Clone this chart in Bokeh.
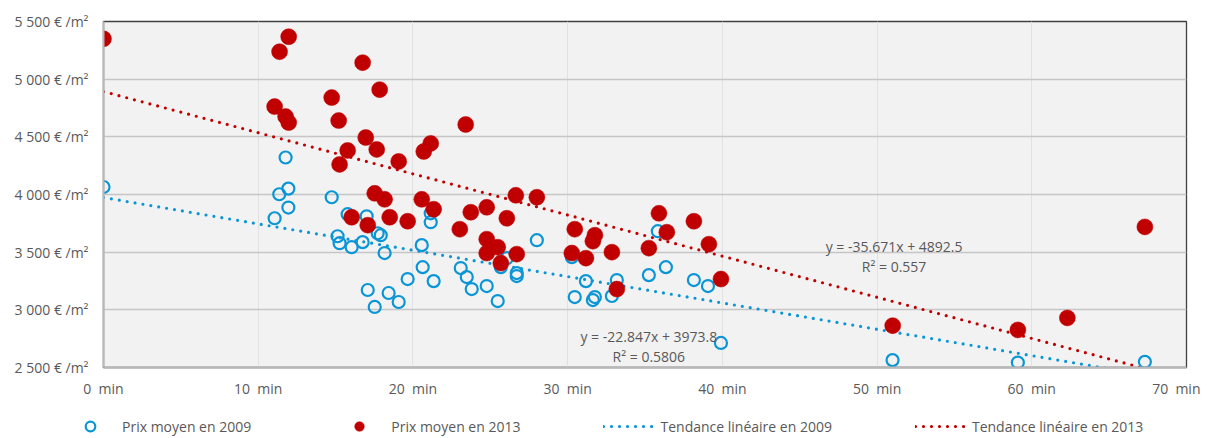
from bokeh.plotting import figure
from bokeh.layouts import column
from bokeh.models import Range1d, FixedTicker, Label, Legend, LegendItem
from bokeh.embed import file_html
from bokeh.resources import INLINE

# ---------------- data ----------------
minutes_2009 = [0.0, 11.77, 11.36, 11.95, 11.95, 11.06, 14.75, 15.78, 17.01, 21.15,
                21.15, 15.13, 15.26, 16.04, 16.75, 17.72, 17.92, 18.17, 20.57, 20.63,
                21.34, 19.66, 17.08, 18.43, 19.08, 17.53, 23.09, 23.48, 23.80, 24.77,
                25.48, 25.68, 26.07, 26.71, 26.71, 28.01, 30.27, 31.18, 30.46, 31.63,
                31.76, 32.86, 33.18, 35.25, 36.35, 35.83, 38.16, 39.07, 39.91, 51.0,
                59.1, 67.31]
prix_2009 = [4065, 4321, 4002, 4051, 3887, 3794, 3976, 3829, 3811, 3837,
             3760, 3638, 3578, 3543, 3587, 3664, 3647, 3492, 3561, 3370,
             3249, 3267, 3172, 3146, 3068, 3025, 3362, 3284, 3180, 3206,
             3076, 3370, 3448, 3319, 3293, 3604, 3457, 3249, 3111, 3085,
             3111, 3120, 3258, 3301, 3370, 3682, 3258, 3206, 2713, 2564,
             2543, 2549]

minutes_2013 = [0.0, 11.38, 11.97, 11.06, 11.77, 11.97, 14.75, 15.20, 16.75, 17.85,
                16.95, 15.78, 17.66, 15.26, 19.08, 20.70, 21.15, 23.41, 17.53, 18.17,
                20.57, 21.34, 16.04, 17.08, 18.50, 19.66, 23.03, 23.74, 24.77, 26.07,
                26.65, 28.01, 24.77, 25.48, 24.77, 26.71, 25.68, 30.46, 31.76, 31.63,
                30.27, 31.18, 32.86, 33.18, 35.90, 36.41, 35.25, 38.16, 39.13, 39.91,
                51.01, 59.10, 62.30, 67.31]
prix_2013 = [5350, 5238, 5368, 4762, 4676, 4624, 4840, 4641, 5143, 4909,
             4494, 4382, 4391, 4261, 4287, 4373, 4443, 4607, 4010, 3958,
             3958, 3872, 3803, 3734, 3803, 3768, 3699, 3846, 3889, 3794,
             3993, 3976, 3613, 3543, 3492, 3483, 3405, 3699, 3647, 3595,
             3492, 3448, 3500, 3180, 3837, 3673, 3535, 3768, 3569, 3267,
             2863, 2826, 2930, 3719]

trend_2009 = {"slope": -22.847, "intercept": 3973.8, "r2": "0.5806"}
trend_2013 = {"slope": -35.671, "intercept": 4892.5, "r2": "0.557"}

x_ticks = [0, 10, 20, 30, 40, 50, 60, 70]
x_tick_labels = ["0\u00a0 min", "10\u00a0 min", "20\u00a0 min", "30\u00a0 min",
                 "40\u00a0 min", "50\u00a0 min", "60\u00a0 min", "70\u00a0 min"]
y_ticks = [2500, 3000, 3500, 4000, 4500, 5000, 5500]
y_tick_labels = ["2 500 € /m²", "3 000 € /m²", "3 500 € /m²", "4 000 € /m²",
                 "4 500 € /m²", "5 000 € /m²", "5 500 € /m²"]

legend_labels = ["Prix moyen en 2009", "Prix moyen en 2013",
                 "Tendance linéaire en 2009", "Tendance linéaire en 2013"]

# ---------------- style ----------------
BLUE = "#0a96d6"
RED = "#c00000"
GREY_TXT = "#595959"
FONT = "Open Sans"
FS = "14px"
W = 1200

p = figure(width=W, height=400, output_backend="svg", toolbar_location=None,
           x_range=Range1d(0, 70), y_range=Range1d(2500, 5500),
           min_border_left=103, min_border_right=14, min_border_top=21,
           min_border_bottom=32)
p.background_fill_color = "#f2f2f2"
p.border_fill_color = "white"
p.outline_line_color = "#404040"
p.outline_line_width = 1.3

# grids
p.xgrid.ticker = FixedTicker(ticks=x_ticks)
p.ygrid.ticker = FixedTicker(ticks=y_ticks)
p.xgrid.grid_line_color = "#e2e2e2"
p.xgrid.grid_line_width = 1
p.ygrid.grid_line_color = "#c6c6c6"
p.ygrid.grid_line_width = 1.6

# axes
for ax in (p.xaxis[0], p.yaxis[0]):
    ax.major_tick_line_color = None
    ax.minor_tick_line_color = None
    ax.major_tick_out = 0
    ax.major_tick_in = 0
    ax.axis_line_color = "#b8b8b8"
    ax.axis_line_width = 2
    ax.major_label_text_font = FONT
    ax.major_label_text_font_size = FS
    ax.major_label_text_color = GREY_TXT
p.xaxis.ticker = FixedTicker(ticks=x_ticks)
p.yaxis.ticker = FixedTicker(ticks=y_ticks)
p.xaxis.major_label_overrides = {t: l for t, l in zip(x_ticks, x_tick_labels)}
p.yaxis.major_label_overrides = {t: l for t, l in zip(y_ticks, y_tick_labels)}
p.xaxis.major_label_standoff = 11
p.yaxis.major_label_standoff = 15

# trend lines
def trend_points(xs, tr):
    x0, x1 = 0.0, max(xs)
    return [x0, x1], [tr["intercept"] + tr["slope"] * x0, tr["intercept"] + tr["slope"] * x1]

tx09, ty09 = trend_points(minutes_2009, trend_2009)
tx13, ty13 = trend_points(minutes_2013, trend_2013)
line_style = dict(line_width=3.2, line_dash="0 8", line_cap="round")
p.line(tx09, ty09, line_color=BLUE, **line_style)
p.line(tx13, ty13, line_color=RED, **line_style)

# scatter
s09 = dict(marker="circle", fill_color=None, line_color=BLUE, line_width=2.2)
s13 = dict(marker="circle", fill_color=RED, line_color=RED, line_width=0.5)
p.scatter(minutes_2009, prix_2009, size=12, **s09)
p.scatter(minutes_2013, prix_2013, size=16, **s13)

# equations
def eq_label(x, y, txt):
    p.add_layout(Label(x=x, y=y, text=txt, text_align="center", text_baseline="middle",
                       text_font=FONT, text_font_size=FS, text_color=GREY_TXT))

eq_label(35.25, 2768, "y = %.3fx + %.1f" % (trend_2009["slope"], trend_2009["intercept"]))
eq_label(35.25, 2595, "R² = " + trend_2009["r2"])
eq_label(51.1, 3546, "y = %.3fx + %.1f" % (trend_2013["slope"], trend_2013["intercept"]))
eq_label(51.1, 3373, "R² = " + trend_2013["r2"])

# legend strip (separate figure below the chart; its data ranges keep the
# proxy glyphs out of view so only the legend shows)
pl = figure(width=W, height=38, output_backend="svg", toolbar_location=None,
            x_range=Range1d(0, 1), y_range=Range1d(0, 1),
            x_axis_type=None, y_axis_type=None,
            min_border_left=0, min_border_right=0, min_border_top=0, min_border_bottom=0)
pl.xgrid.visible = False
pl.ygrid.visible = False
pl.outline_line_color = None
pl.background_fill_color = "white"
pl.border_fill_color = "white"

if "frame_align" in pl.properties():
    pl.frame_align = False
    p.frame_align = False
    leg_x, leg_spacing = 65, 83
else:
    leg_x, leg_spacing = 0, 80

k09 = pl.scatter(minutes_2009[:1], prix_2009[:1], size=12, **s09)
k13 = pl.scatter(minutes_2013[:1], prix_2013[:1], size=16, **s13)
kt09 = pl.line(tx09, ty09, line_color=BLUE, **line_style)
kt13 = pl.line(tx13, ty13, line_color=RED, **line_style)

legend = Legend(items=[LegendItem(label=legend_labels[0], renderers=[k09]),
                       LegendItem(label=legend_labels[1], renderers=[k13]),
                       LegendItem(label=legend_labels[2], renderers=[kt09]),
                       LegendItem(label=legend_labels[3], renderers=[kt13])],
                orientation="horizontal", location=(leg_x, 0),
                border_line_color=None, background_fill_alpha=0,
                padding=0, margin=0, spacing=leg_spacing, label_standoff=7,
                glyph_width=50, glyph_height=24,
                label_text_font=FONT, label_text_font_size=FS,
                label_text_color=GREY_TXT)
pl.add_layout(legend, "center")

page = column(p, pl, spacing=0)
open("out.html", "w").write(file_html(page, INLINE))
